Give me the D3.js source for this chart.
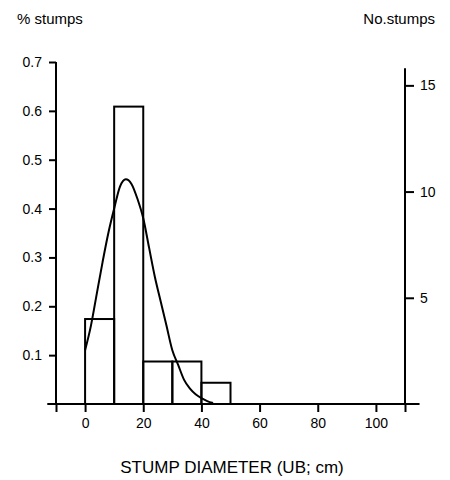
<!DOCTYPE html>
<html>
<head>
<meta charset="utf-8">
<script src="https://cdn.jsdelivr.net/npm/d3@7"></script>
<style>
  body { margin: 0; background: #fff; }
  text { font-family: "Liberation Sans", Arial, sans-serif; fill: #000; }
</style>
</head>
<body>
<svg id="chart" width="450" height="480"></svg>
<script>
  // Histogram bins (cm) and stump counts
  var binStarts = [0, 10, 20, 30, 40]
  var binWidth = 10
  var counts = [4, 14, 2, 2, 1]

  // Fitted curve (diameter cm, proportion)
  var curveX = [0, 2, 4, 6, 8, 10, 12, 14, 16, 18, 20, 22, 24, 26, 28, 30, 32, 34, 36, 38, 40, 42, 44]
  var curveY = [0.11, 0.16, 0.225, 0.29, 0.35, 0.40, 0.445, 0.46, 0.45, 0.42, 0.38, 0.32, 0.26, 0.21, 0.16, 0.11, 0.08, 0.05, 0.032, 0.02, 0.012, 0.006, 0.002]

  // Axis ticks
  var xTicks = [-10, 0, 20, 40, 60, 80, 100, 110]
  var xLabels = [0, 20, 40, 60, 80, 100]
  var pTicks = [0.1, 0.2, 0.3, 0.4, 0.5, 0.6, 0.7]
  var nTicks = [5, 10, 15]

  var total = d3.sum(counts)
  var svg = d3.select('#chart')

  var x = d3.scaleLinear().domain([-10, 110]).range([56, 405])
  var y = d3.scaleLinear().domain([0, 0.7]).range([404, 62])
  var yN = d3.scaleLinear().domain([0, 0.7 * total]).range([404, 62])

  var lw = 2

  // bars
  svg.append('g').selectAll('rect')
    .data(counts)
    .enter().append('rect')
    .attr('x', function (d, i) { return x(binStarts[i]) })
    .attr('width', function (d, i) { return x(binStarts[i] + binWidth) - x(binStarts[i]) })
    .attr('y', function (d) { return y(d / total) })
    .attr('height', function (d) { return y(0) - y(d / total) })
    .attr('fill', 'none')
    .attr('stroke', '#000')
    .attr('stroke-width', lw)

  // fitted curve
  var line = d3.line()
    .x(function (d, i) { return x(curveX[i]) })
    .y(function (d) { return y(d) })
    .curve(d3.curveMonotoneX)

  svg.append('path')
    .datum(curveY)
    .attr('d', line)
    .attr('fill', 'none')
    .attr('stroke', '#000')
    .attr('stroke-width', lw)

  // left axis
  var left = svg.append('g')
    .attr('transform', 'translate(' + x(-10) + ',0)')
    .call(d3.axisLeft(y).tickValues(pTicks).tickSize(7).tickPadding(7)
      .tickFormat(d3.format('.1f')))
  left.select('.domain').remove()
  left.append('line')
    .attr('y1', y(0)).attr('y2', y(0.7))
    .attr('stroke', '#000').attr('stroke-width', lw)

  // right axis
  var right = svg.append('g')
    .attr('transform', 'translate(' + x(110) + ',0)')
    .call(d3.axisRight(yN).tickValues(nTicks).tickSize(9).tickPadding(6))
  right.select('.domain').remove()
  right.append('line')
    .attr('y1', yN(0)).attr('y2', yN(15.8))
    .attr('stroke', '#000').attr('stroke-width', lw)

  // bottom axis
  var bottom = svg.append('g')
    .attr('transform', 'translate(0,' + y(0) + ')')
    .call(d3.axisBottom(x).tickValues(xTicks).tickSize(8).tickPadding(6)
      .tickFormat(function (d) { return xLabels.indexOf(d) >= 0 ? d : '' }))
  bottom.select('.domain').remove()
  bottom.append('line')
    .attr('x1', x(-13)).attr('x2', x(115))
    .attr('stroke', '#000').attr('stroke-width', lw)

  svg.selectAll('.tick line').attr('stroke', '#000').attr('stroke-width', lw)
  svg.selectAll('.tick text').style('font-size', '14px').attr('font-family', null)

  // titles
  svg.append('text').attr('x', 17).attr('y', 24)
    .style('font-size', '15px').text('% stumps')
  svg.append('text').attr('x', 435).attr('y', 24).attr('text-anchor', 'end')
    .style('font-size', '15px').text('No.stumps')
  svg.append('text').attr('x', 232).attr('y', 473)
    .attr('text-anchor', 'middle')
    .style('font-size', '17px').text('STUMP DIAMETER (UB; cm)')
</script>
</body>
</html>
